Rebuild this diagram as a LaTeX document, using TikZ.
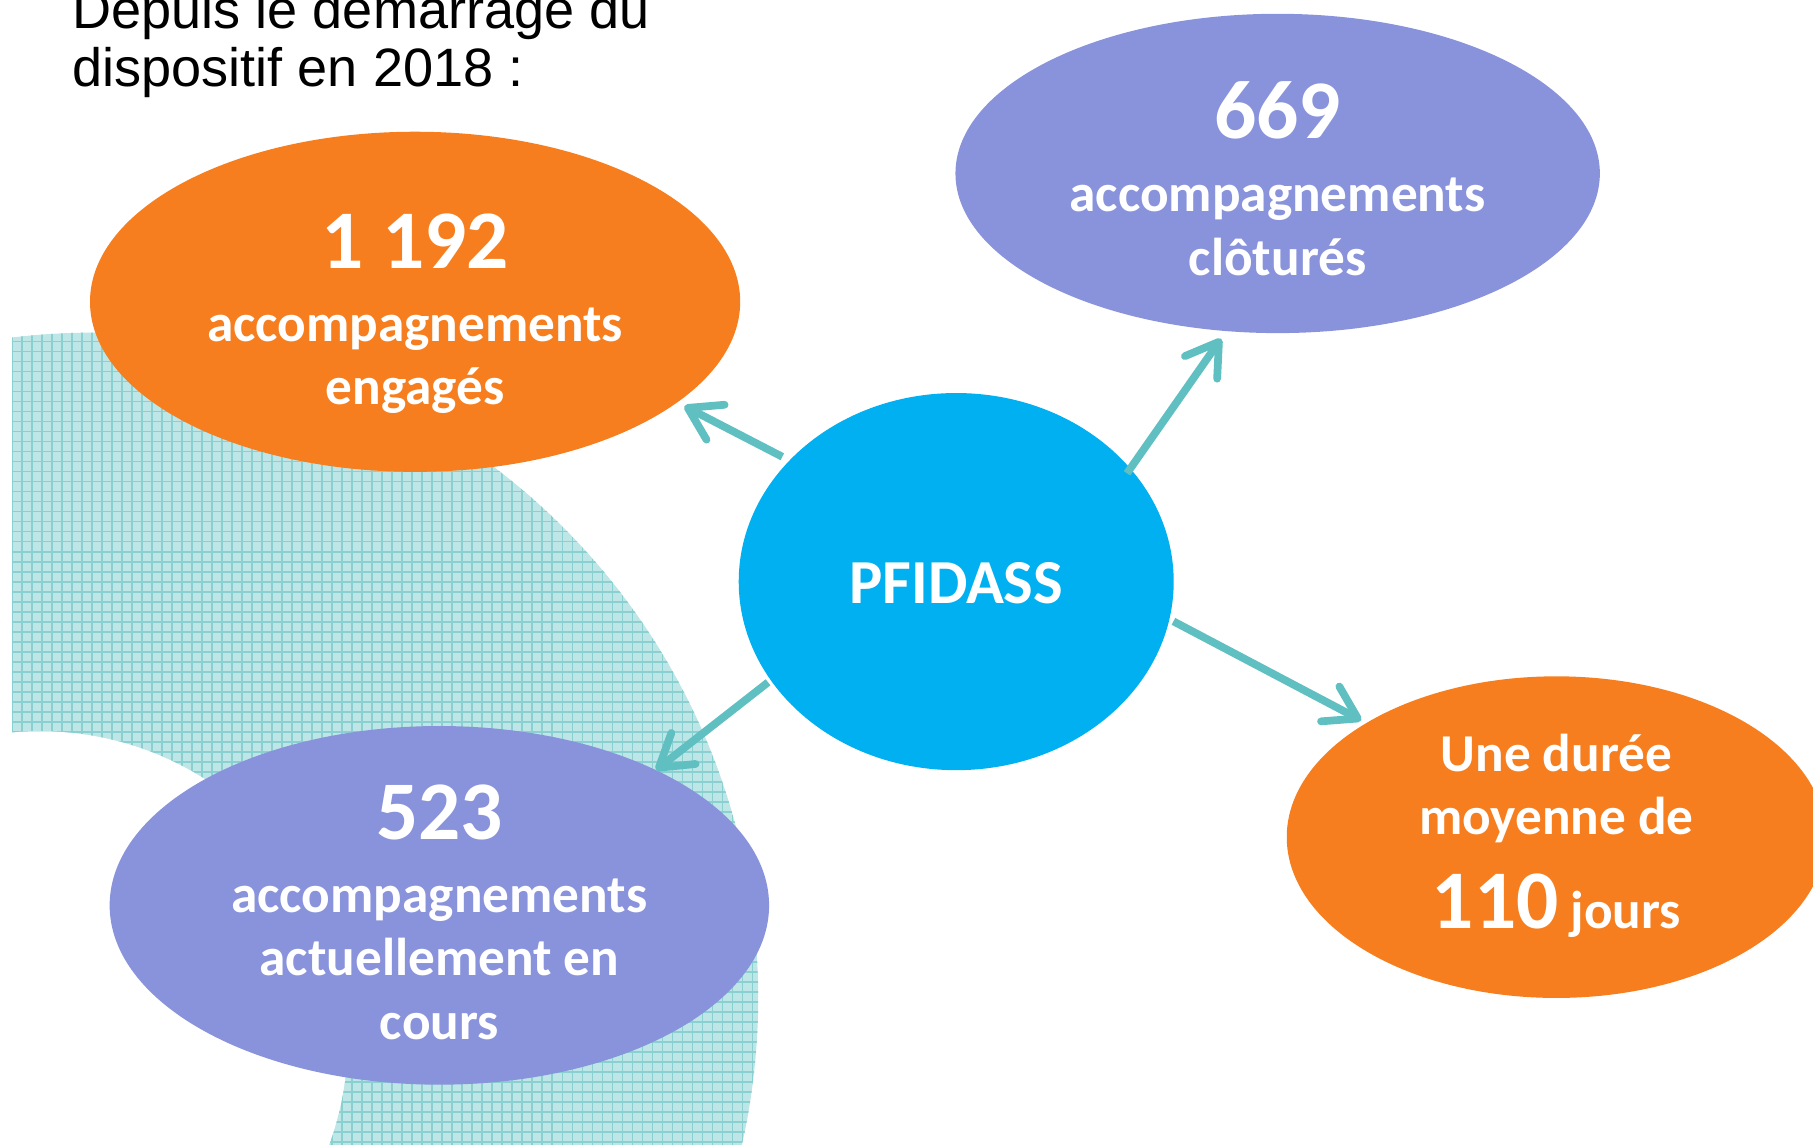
\documentclass[tikz,border=0pt]{standalone}
\usepackage{fontspec}
\newfontfamily\calibri{Carlito}
\newfontfamily\arialf{Liberation Sans}
\usetikzlibrary{shapes.geometric,arrows.meta}
\definecolor{orng}{RGB}{246,126,30}
\definecolor{purp}{RGB}{137,147,220}
\definecolor{bluec}{RGB}{0,176,240}
\definecolor{arrc}{RGB}{96,191,193}
\definecolor{tealbg}{RGB}{190,230,230}
\definecolor{tealln}{RGB}{138,208,208}
\tikzset{
  blob/.style={ellipse, inner sep=0pt, outer sep=0pt, draw=none},
  num/.style={anchor=base, text=white, inner sep=0pt, font=\calibri\bfseries\fontsize{20.5}{24}\selectfont},
  txt/.style={anchor=base, text=white, inner sep=0pt, font=\calibri\bfseries\fontsize{13.1}{15.7}\selectfont},
  toptxt/.style={anchor=base west, text=black, inner sep=0pt, font=\arialf\fontsize{13.3}{16}\selectfont},
  arr/.style={draw=arrc, line width=1.9pt, -{Straight Barb[length=2.7mm,width=3.4mm,round]}},
  gridln/.style={draw=tealln, line width=0.3pt}
}
\begin{document}
\begin{tikzpicture}[x=0.01cm,y=-0.01cm]
\useasboundingbox (0,0) rectangle (1568,990);
% background patterned arc
\begin{scope}
  \clip (10.4,0) rectangle (1568,990);
  \clip (80.4,863) circle [radius=5.75cm];
  \fill[tealbg] (0,280) rectangle (800,990);
  \foreach \i in {0,...,93} {
    \draw[gridln] ({10.4+\i*8.65},280) -- ({10.4+\i*8.65},990);
  }
  \foreach \j in {0,...,82} {
    \draw[gridln] (0,{287+\j*8.65}) -- (800,{287+\j*8.65});
  }
  \fill[white] (34.6,898.6) circle [radius=2.66cm];
\end{scope}
% heading
\node[toptxt] (t1) at (62,25) {Depuis le démarrage du};
\node[toptxt] (t2) at (62,75) {dispositif en 2018 :};
% shapes
\node[blob, fill=orng, minimum width=5.62cm, minimum height=2.94cm] (o1) at (359,261) {};
\node[blob, fill=purp, minimum width=5.57cm, minimum height=2.76cm] (p1) at (1105,150) {};
\node[blob, fill=bluec, minimum width=3.76cm, minimum height=3.26cm] (c) at (827,503) {};
\node[blob, fill=purp, minimum width=5.70cm, minimum height=3.10cm] (p2) at (380,783) {};
\node[blob, fill=orng, minimum width=4.66cm, minimum height=2.78cm] (o2) at (1346,724) {};
% texts
\node[num] (o1n) at (359,232) {1 192};
\node[txt] (o1a) at (359,295) {accompagnements};
\node[txt] (o1b) at (359,350) {engagés};
\node[num] (p1n) at (1105,120) {669};
\node[txt] (p1a) at (1105,183) {accompagnements};
\node[txt] (p1b) at (1105,238) {clôturés};
\node[num] (p2n) at (380,726) {523};
\node[txt] (p2a) at (380,789) {accompagnements};
\node[txt] (p2b) at (380,844) {actuellement en};
\node[txt] (p2c) at (380,899) {cours};
\node[txt] (o2a) at (1346,667) {Une durée};
\node[txt] (o2b) at (1346,722) {moyenne de};
\node[txt] (o2c) at (1346,803) {{\fontsize{20.5}{24}\selectfont 110} jours};
\node[anchor=base, text=white, inner sep=0pt, font=\calibri\bfseries\fontsize{15.4}{18}\selectfont] (cl) at (827,522) {PFIDASS};
% arrows
\draw[arr, shorten <=0.07cm, shorten >=0.07cm] (c.144) -- (o1.-21);
\draw[arr, shorten <=-0.05cm, shorten >=0.08cm] (c.33) -- (p1.-108);
\draw[arr, shorten <=0.03cm] (c.208) -- (p2.32);
\draw[arr, shorten <=0.04cm, shorten >=0.05cm] (c.-10) -- (o2.149);
\end{tikzpicture}
\end{document}
